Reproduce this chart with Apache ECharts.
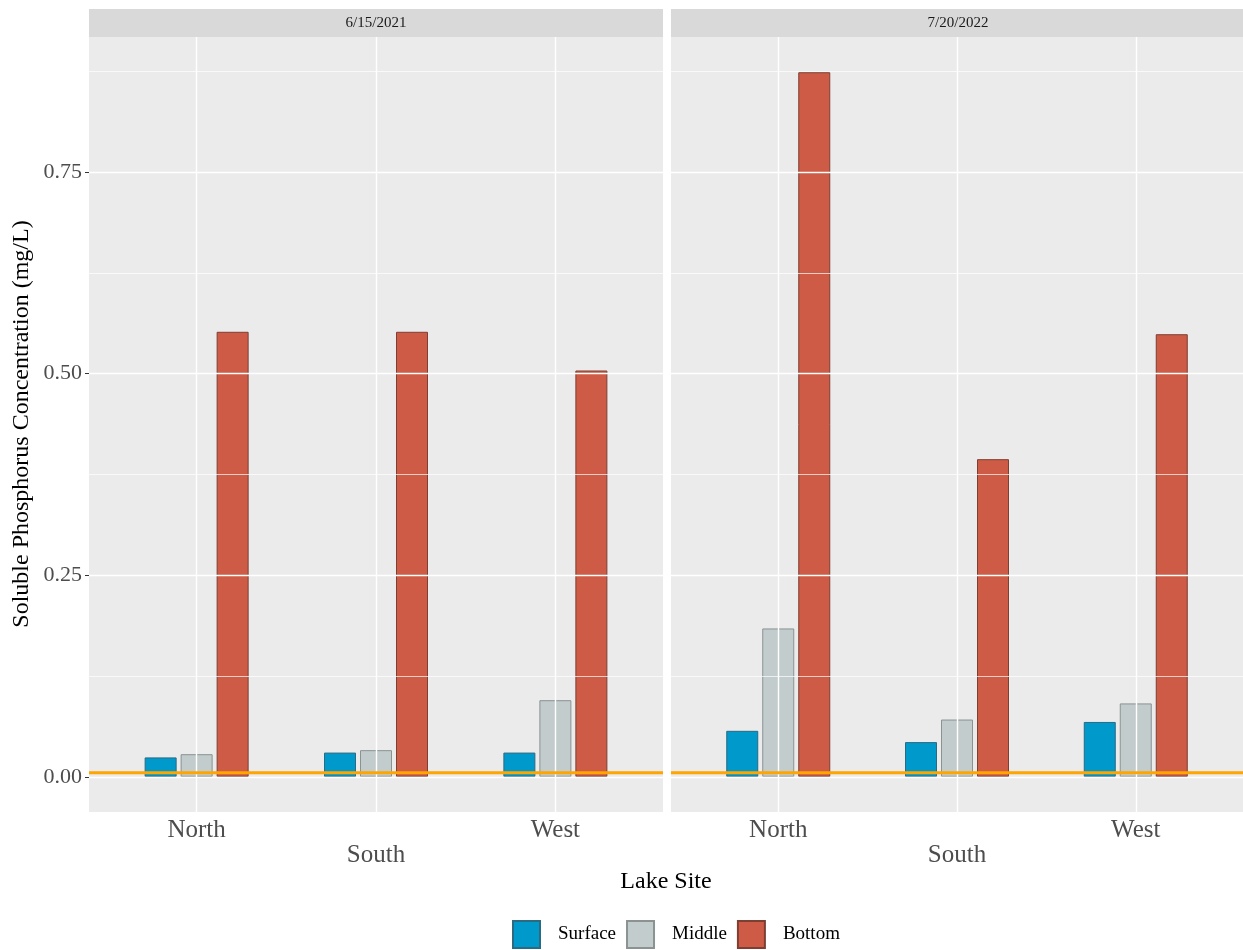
<!DOCTYPE html>
<html>
<head>
<meta charset="utf-8">
<title>Soluble Phosphorus by Lake Site</title>
<script src="https://cdn.jsdelivr.net/npm/echarts@6/dist/echarts.min.js"></script>
<style>
  html, body { margin: 0; padding: 0; background: #ffffff; }
  #chart { width: 1243px; height: 950px; }
</style>
</head>
<body>
<div id="chart"></div>
<script>
// Sampling dates (one facet each) and lake sites
const sampleDates = ['6/15/2021', '7/20/2022'];
const sites = ['North', 'South', 'West'];
const depths = ['Surface', 'Middle', 'Bottom'];

// Soluble phosphorus (mg/L) per site: North, South, West
const surface2021 = [0.024, 0.030, 0.030];
const middle2021  = [0.028, 0.033, 0.095];
const bottom2021  = [0.552, 0.552, 0.504];
const surface2022 = [0.057, 0.043, 0.068];
const middle2022  = [0.184, 0.071, 0.091];
const bottom2022  = [0.874, 0.394, 0.549];

// Reference level drawn as a horizontal line
const referenceLevel = 0.005;

// Axis tick values
const yTicks = [0, 0.25, 0.5, 0.75];
const yMinorTicks = [0.125, 0.375, 0.625, 0.875];

const depthColors = ['#0099CC', '#C2CCCC', '#CD5B45'];
const depthBorders = ['#2A6A82', '#8A9292', '#7E3F33'];
const serif = '"Liberation Serif", "DejaVu Serif", serif';

const valuesByDate = [
  [surface2021, middle2021, bottom2021],
  [surface2022, middle2022, bottom2022]
];

// Shared y range: 5% padding around [0, max]
const dataMax = Math.max(...valuesByDate.flat(2));
const yMin = -0.05 * dataMax;
const yMax = 1.05 * dataMax;

// Discrete x range: 0.6 padding beyond the first and last site
const xMin = 1 - 0.6;
const xMax = sites.length + 0.6;

// Panel geometry
const panelTop = 37, panelHeight = 775, panelWidth = 574;
const panelLefts = [89, 671];

const grids = panelLefts.map(left => ({
  left: left, top: panelTop, width: panelWidth, height: panelHeight,
  show: true, backgroundColor: '#EBEBEB', borderWidth: 0, containLabel: false
}));

const sitePositions = sites.map((_, i) => i + 1);

const xAxes = panelLefts.map((_, i) => ({
  type: 'value', gridIndex: i, min: xMin, max: xMax,
  axisLine: { show: false },
  splitLine: { show: false },
  axisTick: { show: true, customValues: sitePositions, length: 4, lineStyle: { color: '#333333', width: 1 } },
  axisLabel: {
    customValues: sitePositions,
    margin: 6,
    fontFamily: serif, fontSize: 25, color: '#4D4D4D', lineHeight: 25,
    verticalAlign: 'top',
    formatter: v => {
      const idx = Math.round(v) - 1;
      return idx === 1 ? '\n' + sites[idx] : sites[idx];
    }
  }
}));

const yAxes = panelLefts.map((_, i) => ({
  type: 'value', gridIndex: i, min: yMin, max: yMax,
  axisLine: { show: false },
  splitLine: { show: false },
  axisTick: { show: i === 0, customValues: yTicks, length: 4, lineStyle: { color: '#333333', width: 1 } },
  axisLabel: {
    show: i === 0,
    customValues: yTicks,
    margin: 7,
    fontFamily: serif, fontSize: 22, color: '#4D4D4D',
    formatter: v => v.toFixed(2)
  }
}));

const series = [];
panelLefts.forEach((_, g) => {
  // panel gridlines, behind the bars
  series.push({
    type: 'line', xAxisIndex: g, yAxisIndex: g, data: [], z: 1, silent: true,
    markLine: {
      silent: true, symbol: ['none', 'none'], label: { show: false }, animation: false,
      precision: 6,
      data: [
        ...yMinorTicks.map(v => ({ yAxis: v, lineStyle: { color: '#FFFFFF', width: 0.7, type: 'solid' } })),
        ...yTicks.map(v => ({ yAxis: v, lineStyle: { color: '#FFFFFF', width: 1.4, type: 'solid' } })),
        ...sitePositions.map(v => ({ xAxis: v, lineStyle: { color: '#FFFFFF', width: 1.4, type: 'solid' } }))
      ]
    }
  });
  depths.forEach((d, k) => {
    series.push({
      name: d, type: 'bar', xAxisIndex: g, yAxisIndex: g, z: 3,
      barWidth: 32, barGap: '12.5%',
      itemStyle: { color: depthColors[k], borderColor: depthBorders[k], borderWidth: 1 },
      data: valuesByDate[g][k].map((v, s) => [sitePositions[s], v])
    });
  });
  // reference level line across the panel, above the bars
  series.push({
    type: 'line', xAxisIndex: g, yAxisIndex: g, z: 10, silent: true,
    showSymbol: false, symbol: 'none',
    lineStyle: { color: '#FFA500', width: 3 },
    data: [[xMin, referenceLevel], [xMax, referenceLevel]]
  });
});

// Facet strips and axis titles
const graphics = [];
panelLefts.forEach((left, i) => {
  graphics.push({
    type: 'rect', left: left, top: 9, z: 5,
    shape: { width: panelWidth, height: 28 },
    style: { fill: '#D9D9D9' }
  });
  graphics.push({
    type: 'text', x: left + panelWidth / 2, y: 23, z: 6,
    style: {
      text: sampleDates[i], fontFamily: serif, fontSize: 15, fill: '#1A1A1A',
      textAlign: 'center', textVerticalAlign: 'middle'
    }
  });
});
graphics.push({
  type: 'text', x: 666, y: 882, z: 6,
  style: {
    text: 'Lake Site', fontFamily: serif, fontSize: 24, fill: '#000000',
    textAlign: 'center', textVerticalAlign: 'middle'
  }
});
graphics.push({
  type: 'text', x: 22, y: 424, rotation: Math.PI / 2, z: 6,
  style: {
    text: 'Soluble Phosphorus Concentration (mg/L)', fontFamily: serif, fontSize: 24, fill: '#000000',
    textAlign: 'center', textVerticalAlign: 'middle'
  }
});

const chart = echarts.init(document.getElementById('chart'), null, { renderer: 'canvas' });
chart.setOption({
  animation: false,
  backgroundColor: '#FFFFFF',
  grid: grids,
  xAxis: xAxes,
  yAxis: yAxes,
  legend: {
    data: depths,
    bottom: 1, left: 512, padding: 0,
    icon: 'rect', itemWidth: 27, itemHeight: 27, itemGap: 10,
    textStyle: { fontFamily: serif, fontSize: 19, color: '#000000', padding: [0, 0, 0, 13] }
  },
  graphic: graphics,
  series: series
});
</script>
</body>
</html>
